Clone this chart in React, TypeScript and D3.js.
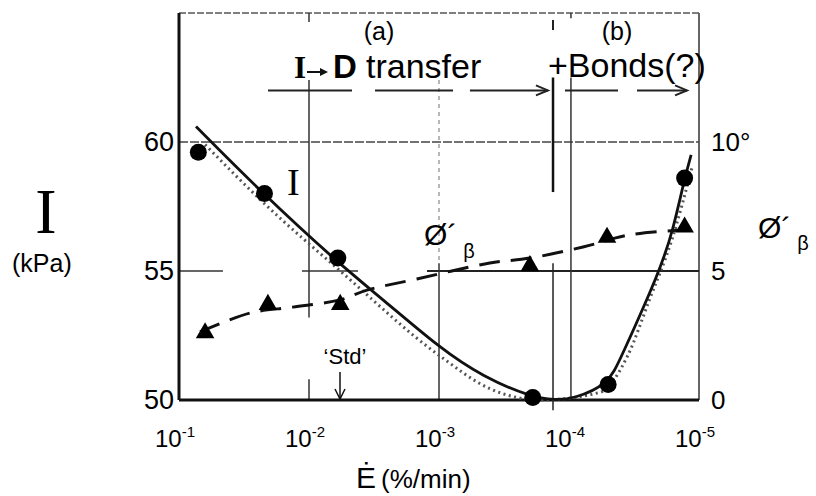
import React from 'react';
import * as d3 from 'd3';

// strain rate (%/min) and measured values
const rateI = [7.1e-2, 2.2e-2, 6.0e-3, 1.9e-4, 5.0e-5, 1.29e-5];
const valI = [59.6, 58.0, 55.5, 50.1, 50.6, 58.6];
const ratePhi = [6.3e-2, 2.07e-2, 5.75e-3, 2.0e-4, 5.1e-5, 1.29e-5];
const valPhi = [2.6, 3.7, 3.7, 5.2, 6.3, 6.7];

// fitted curves
const fitRateI = [7.4e-2, 2.38e-2, 6.1e-3, 2.7e-3, 9.8e-4, 4.6e-4, 1.93e-4, 1.28e-4, 9.3e-5, 5.0e-5, 4.06e-5, 2.0e-5, 1.58e-5, 1.29e-5, 1.15e-5];
const fitI = [60.6, 58.1, 55.35, 53.9, 52.0, 50.9, 50.1, 50.0, 50.04, 50.6, 51.55, 55.0, 56.6, 58.6, 59.5];
const dotRateI = [6.3e-2, 2.19e-2, 5.75e-3, 9.8e-4, 4.1e-4, 1.66e-4, 5.75e-5, 3.55e-5, 2.4e-5, 1.62e-5, 1.12e-5];
const dotI = [59.9, 57.6, 55.0, 51.7, 50.45, 50.0, 50.3, 51.7, 53.9, 56.2, 59.1];
const fitRatePhi = [6.89e-2, 2.84e-2, 1.33e-2, 5.78e-3, 3.58e-3, 1.48e-3, 4.07e-4, 2.0e-4, 7.8e-5, 3.4e-5, 1.0e-5];
const fitPhi = [2.64, 3.37, 3.6, 3.88, 4.26, 4.69, 5.31, 5.5, 5.93, 6.4, 6.63];

const xTicks = [1e-1, 1e-2, 1e-3, 1e-4, 1e-5];
const xTickExp = ['-1', '-2', '-3', '-4', '-5'];
const leftTicks = [50, 55, 60];
const rightTicks = [0, 5, 10];
const rightTickLabels = ['0', '5', '10°'];

const W = 816, H = 496;
const x = d3.scaleLog().domain([1e-1, 1e-5]).range([179, 699]);
const yL = d3.scaleLinear().domain([50, 65]).range([400, 13]);
const yR = d3.scaleLinear().domain([0, 15]).range([400, 13]);
const lx = (e: number) => x(Math.pow(10, -e));

const sans = 'Liberation Sans, Arial, sans-serif';
const serif = 'Liberation Serif, Times New Roman, serif';

const App = () => {
  const lineI = d3.line<number>().x((d, i) => x(fitRateI[i])).y(d => yL(d)).curve(d3.curveBasis);
  const lineDot = d3.line<number>().x((d, i) => x(dotRateI[i])).y(d => yL(d)).curve(d3.curveMonotoneX);
  const linePhi = d3.line<number>().x((d, i) => x(fitRatePhi[i])).y(d => yR(d)).curve(d3.curveCatmullRom);
  const tri = d3.symbol().type(d3.symbolTriangle).size(150)();

  const x0 = x(1e-1), x1 = x(1e-5);
  const arrowHead = (px: number, py: number) => `M${px - 12},${py - 5} L${px},${py} L${px - 12},${py + 5}`;
  const rowY = yL(62);

  return (
    <svg width={W} height={H} style={{ position: 'absolute', left: 0, top: 0, background: '#fff' }}>
      {/* frame */}
      <line x1={x0} x2={x1} y1={yL(65)} y2={yL(65)} stroke="#555" strokeWidth={1.5} strokeDasharray="7 2" />
      <line x1={x1} x2={x1} y1={yL(65)} y2={yL(50)} stroke="#666" strokeWidth={2} />
      {/* grid */}
      <line x1={x0} x2={x1} y1={yL(60)} y2={yL(60)} stroke="#444" strokeWidth={1.5} strokeDasharray="9 2" />
      <line x1={x0} x2={lx(1.338)} y1={yL(55)} y2={yL(55)} stroke="#333" strokeWidth={1.5} />
      <line x1={lx(1.946)} x2={lx(2.377)} y1={yL(55)} y2={yL(55)} stroke="#333" strokeWidth={1.5} />
      <line x1={lx(2.908)} x2={x1} y1={yL(55)} y2={yL(55)} stroke="#222" strokeWidth={1.8} />
      <line x1={x(1e-2)} x2={x(1e-2)} y1={yL(62.4)} y2={yL(53.2)} stroke="#333" strokeWidth={1.5} />
      <line x1={x(1e-2)} x2={x(1e-2)} y1={yL(50.8)} y2={yL(50)} stroke="#333" strokeWidth={1.5} />
      <line x1={x(1e-2)} x2={x(1e-2)} y1={yL(65)} y2={yL(64.65)} stroke="#333" strokeWidth={1.5} />
      <line x1={x(1e-3)} x2={x(1e-3)} y1={yL(62.4)} y2={yL(55.3)} stroke="#888" strokeWidth={1.2} strokeDasharray="4 4" />
      <line x1={x(1e-3)} x2={x(1e-3)} y1={yL(55.3)} y2={yL(50)} stroke="#333" strokeWidth={1.5} />
      <line x1={lx(4.015)} x2={lx(4.015)} y1={yL(62.5)} y2={yL(50)} stroke="#333" strokeWidth={1.5} />
      <line x1={lx(4.015)} x2={lx(4.015)} y1={yL(65)} y2={yL(64.8)} stroke="#333" strokeWidth={1.5} />
      {/* (a)/(b) divider */}
      <line x1={lx(3.877)} x2={lx(3.877)} y1={yL(64.73)} y2={yL(64.34)} stroke="#222" strokeWidth={2} />
      <line x1={lx(3.877)} x2={lx(3.877)} y1={yL(62.5)} y2={yL(58.06)} stroke="#111" strokeWidth={2.5} />
      <line x1={lx(3.877)} x2={lx(3.877)} y1={yL(55.3)} y2={yL(49.6)} stroke="#222" strokeWidth={1.5} />

      {/* arrow row */}
      <line x1={lx(1.685)} x2={lx(2.331)} y1={rowY} y2={rowY} stroke="#222" strokeWidth={2} />
      <line x1={lx(2.508)} x2={lx(3.108)} y1={rowY} y2={rowY} stroke="#222" strokeWidth={2} />
      <line x1={lx(3.238)} x2={lx(3.838)} y1={rowY} y2={rowY} stroke="#222" strokeWidth={2} />
      <path d={arrowHead(lx(3.838), rowY)} fill="none" stroke="#222" strokeWidth={2} />
      <line x1={lx(3.969)} x2={lx(4.377)} y1={rowY} y2={rowY} stroke="#222" strokeWidth={2} />
      <line x1={lx(4.523)} x2={lx(4.908)} y1={rowY} y2={rowY} stroke="#222" strokeWidth={2} />
      <path d={arrowHead(lx(4.908), rowY)} fill="none" stroke="#222" strokeWidth={2} />

      {/* axes */}
      <line x1={x0} x2={x0} y1={yL(65)} y2={yL(50)} stroke="#111" strokeWidth={3} />
      <line x1={x0} x2={x1} y1={yL(50)} y2={yL(50)} stroke="#111" strokeWidth={3} />

      {/* curves */}
      <path d={lineDot(dotI) ?? ''} fill="none" stroke="#555" strokeWidth={3} strokeDasharray="2 3.5" />
      <path d={lineI(fitI) ?? ''} fill="none" stroke="#111" strokeWidth={2.8} />
      <path d={linePhi(fitPhi) ?? ''} fill="none" stroke="#111" strokeWidth={3} strokeDasharray="21 11" />

      {valI.map((v, i) => (
        <circle key={'c' + i} cx={x(rateI[i])} cy={yL(v)} r={8.5} fill="#000" />
      ))}
      {valPhi.map((v, i) => (
        <path key={'t' + i} d={tri ?? ''} transform={`translate(${x(ratePhi[i])},${yR(v)})`} fill="#000" />
      ))}

      {/* tick labels */}
      {leftTicks.map(t => (
        <text key={'l' + t} x={174} y={yL(t) + 9} textAnchor="end" fontFamily={sans} fontSize={27}>{t}</text>
      ))}
      {rightTicks.map((t, i) => (
        <text key={'r' + t} x={711} y={yR(t) + 9} fontFamily={sans} fontSize={26}>{rightTickLabels[i]}</text>
      ))}
      {xTicks.map((t, i) => (
        <text key={'x' + i} x={x(t) - 4} y={447} textAnchor="middle" fontFamily={sans} fontSize={24}>
          10<tspan dy={-10} fontSize={15}>{xTickExp[i]}</tspan>
        </text>
      ))}

      {/* annotations */}
      <text x={379} y={40} textAnchor="middle" fontFamily={sans} fontSize={25}>(a)</text>
      <text x={617} y={40} textAnchor="middle" fontFamily={sans} fontSize={25}>(b)</text>
      <text x={294} y={78} fontFamily={serif} fontWeight="bold" fontSize={31}>I</text>
      <line x1={307} x2={326} y1={72} y2={72} stroke="#111" strokeWidth={2} />
      <path d="M320,68 L328,72 L320,76 Z" fill="#111" />
      <text x={333} y={78} fontFamily={sans} fontWeight="bold" fontSize={33}>D</text>
      <text x={366} y={78} fontFamily={sans} fontSize={34}>transfer</text>
      <text x={548} y={77} fontFamily={sans} fontSize={34}>+Bonds(?)</text>

      <text x={287} y={195} fontFamily={serif} fontSize={38}>I</text>
      <text x={424} y={245} fontFamily={sans} fontSize={30}>Ø´<tspan dx={6} dy={13} fontSize={20}>β</tspan></text>
      <text x={758} y={238} fontFamily={sans} fontSize={30}>Ø´<tspan dx={6} dy={12} fontSize={20}>β</tspan></text>

      <text x={345} y={364} textAnchor="middle" fontFamily={sans} fontSize={22}>‘Std’</text>
      <line x1={340} x2={340} y1={372} y2={399} stroke="#111" strokeWidth={1.5} />
      <path d="M335,389 L340,399 L345,389" fill="none" stroke="#111" strokeWidth={1.5} />

      {/* axis titles */}
      <text x={46} y={233} textAnchor="middle" fontFamily={serif} fontSize={64}>I</text>
      <text x={12} y={272} fontFamily={sans} fontSize={25}>(kPa)</text>
      <text x={356} y={488} fontFamily={sans} fontSize={30}>Ė</text>
      <text x={381} y={488} fontFamily={sans} fontSize={26}>(%/min)</text>
    </svg>
  );
};

export default App;
